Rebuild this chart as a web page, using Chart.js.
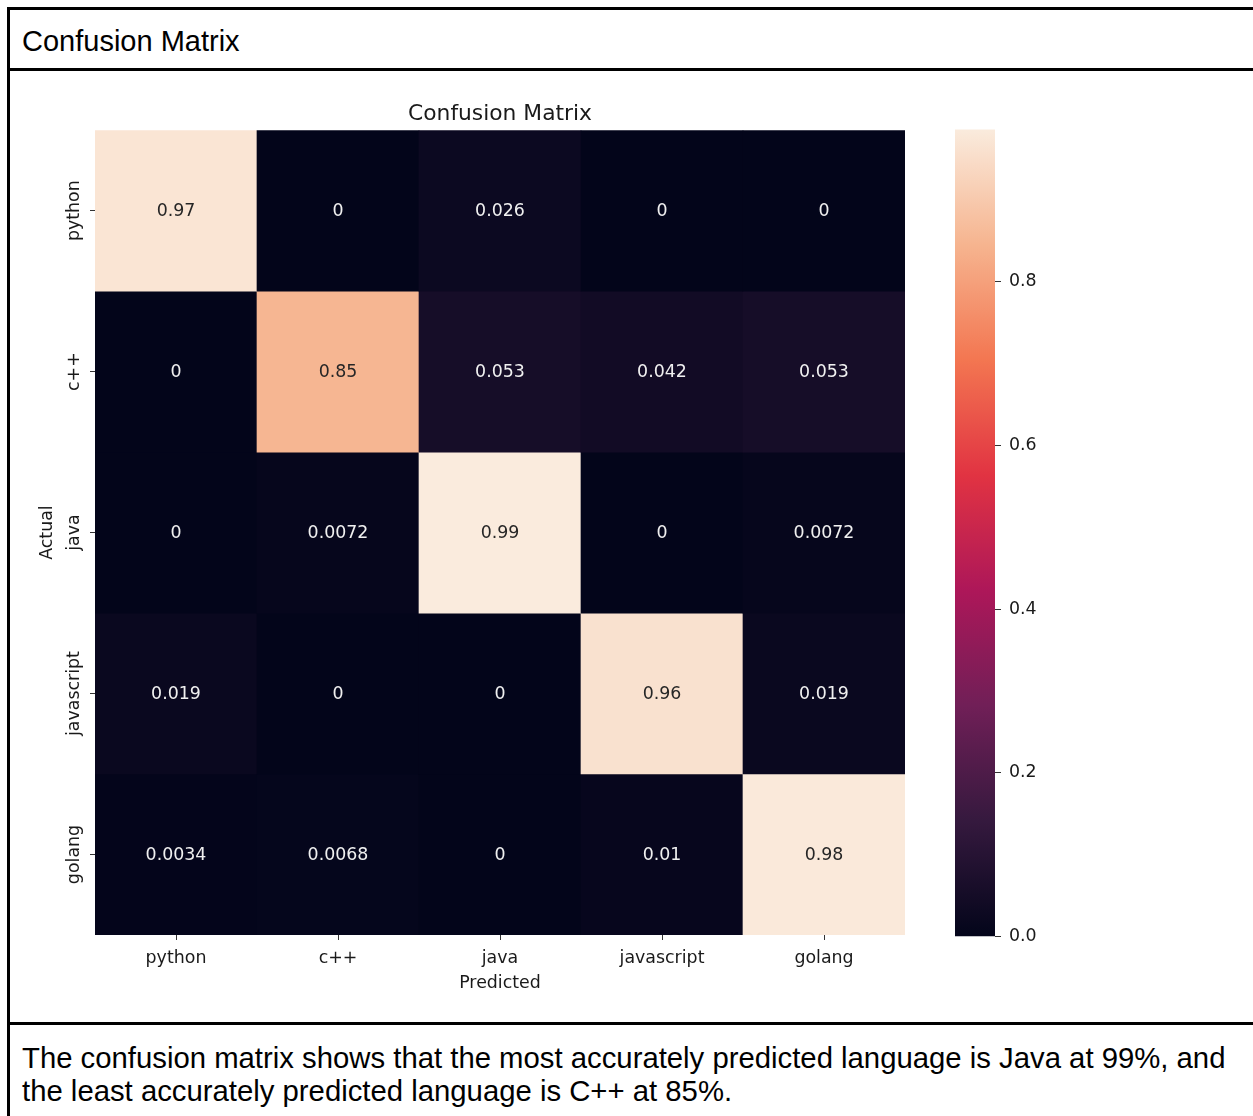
<!DOCTYPE html>
<html lang="en">

<head>
    <meta charset="UTF-8">
    <title>Confusion Matrix</title>
    <script src="https://cdn.jsdelivr.net/npm/chart.js"></script>
    <style>
        body { margin: 0; width: 1253px; height: 1116px; overflow: hidden; background: #fff; position: relative; }
        .line { position: absolute; background: #000; }
        .txt { position: absolute; font-family: "Liberation Sans", Arial, sans-serif; color: #000; white-space: nowrap; }
        canvas { position: absolute; }
    </style>
</head>

<body>
    <div class="line" style="left:7px;top:7px;width:1260px;height:3px"></div>
    <div class="line" style="left:7px;top:7px;width:3px;height:1120px"></div>
    <div class="line" style="left:7px;top:68px;width:1260px;height:3px"></div>
    <div class="line" style="left:7px;top:1022px;width:1260px;height:3px"></div>
    <div class="txt" style="left:22px;top:24px;font-size:29px;line-height:34px">Confusion Matrix</div>
    <div class="txt" style="left:22px;top:1041px;font-size:29.3px;line-height:33px">The confusion matrix shows that the most accurately predicted language is Java at 99%, and<br>the least accurately predicted language is C++ at 85%.</div>

    <canvas id="matrixChart" width="930" height="945" style="left:10px;top:72px"></canvas>
    <canvas id="barChart" width="110" height="844" style="left:955px;top:111px"></canvas>

    <script>
        // rows = actual, columns = predicted
        const actualLabels = ['python', 'c++', 'java', 'javascript', 'golang'];
        const predictedLabels = ['python', 'c++', 'java', 'javascript', 'golang'];
        const pythonRow = [0.97, 0, 0.026, 0, 0];
        const cppRow = [0, 0.85, 0.053, 0.042, 0.053];
        const javaRow = [0, 0.0072, 0.986, 0, 0.0072];
        const javascriptRow = [0.019, 0, 0, 0.96, 0.019];
        const golangRow = [0.0034, 0.0068, 0, 0.01, 0.98];
        const colorbarTicks = [0, 0.2, 0.4, 0.6, 0.8];

        const matrix = [pythonRow, cppRow, javaRow, javascriptRow, golangRow];
        const vmax = Math.max(...matrix.flat());

        // seaborn "rocket" colormap, sampled
        const rocket = [
            [0, [3, 5, 26]],
            [1 / 7, [53, 25, 62]],
            [2 / 7, [112, 31, 87]],
            [3 / 7, [173, 23, 89]],
            [4 / 7, [225, 51, 66]],
            [5 / 7, [243, 118, 81]],
            [6 / 7, [246, 180, 143]],
            [1, [250, 235, 221]]
        ];

        function rocketRgb(t) {
            t = Math.min(1, Math.max(0, t));
            for (let i = 1; i < rocket.length; i++) {
                if (t <= rocket[i][0]) {
                    const [t0, c0] = rocket[i - 1];
                    const [t1, c1] = rocket[i];
                    const f = (t - t0) / (t1 - t0);
                    return c0.map((v, k) => Math.round(v + (c1[k] - v) * f));
                }
            }
            return rocket[rocket.length - 1][1];
        }
        const cellColor = v => 'rgb(' + rocketRgb(v / vmax).join(',') + ')';
        const fmt = v => String(parseFloat(v.toPrecision(2)));

        const mplFont = { family: 'DejaVu Sans', size: 17.4 };
        const textColor = '#1a1a1a';

        // numbers inside the cells
        const cellText = {
            id: 'cellText',
            afterDatasetsDraw(chart) {
                const ctx = chart.ctx;
                ctx.save();
                ctx.font = '17.4px "DejaVu Sans"';
                ctx.textAlign = 'center';
                ctx.textBaseline = 'middle';
                matrix.forEach((row, r) => {
                    const meta = chart.getDatasetMeta(r);
                    row.forEach((v, c) => {
                        const el = meta.data[c];
                        const [R, G, B] = rocketRgb(v / vmax);
                        const lum = (0.2126 * R + 0.7152 * G + 0.0722 * B) / 255;
                        ctx.fillStyle = lum > 0.408 ? '#262626' : '#f0f0f0';
                        ctx.fillText(fmt(v), el.x, (el.y + el.base) / 2 + 1);
                    });
                });
                ctx.restore();
            }
        };

        // rotated y tick labels
        const rowLabels = {
            id: 'rowLabels',
            afterDraw(chart) {
                const ctx = chart.ctx;
                const y = chart.scales.y;
                ctx.save();
                ctx.font = '17.4px "DejaVu Sans"';
                ctx.fillStyle = textColor;
                ctx.textAlign = 'center';
                ctx.textBaseline = 'middle';
                actualLabels.forEach((name, i) => {
                    ctx.save();
                    ctx.translate(chart.chartArea.left - 21, y.getPixelForValue(i + 0.5));
                    ctx.rotate(-Math.PI / 2);
                    ctx.fillText(name, 0, 0);
                    ctx.restore();
                });
                ctx.restore();
            }
        };

        new Chart(document.getElementById('matrixChart'), {
            type: 'bar',
            data: {
                labels: predictedLabels,
                datasets: matrix.map((row, r) => ({
                    label: actualLabels[r],
                    data: row.map(() => [r, r + 1]),
                    backgroundColor: row.map(cellColor),
                    borderWidth: 0,
                    grouped: false,
                    barPercentage: 1,
                    categoryPercentage: 1
                }))
            },
            options: {
                responsive: false,
                animation: false,
                layout: { padding: { left: 0, right: 35, top: 0, bottom: 0 } },
                plugins: {
                    legend: { display: false },
                    tooltip: { enabled: false },
                    title: {
                        display: true,
                        fullSize: false,
                        text: 'Confusion Matrix',
                        color: textColor,
                        font: { family: 'DejaVu Sans', size: 21.8, weight: 'normal' },
                        padding: { top: 29, bottom: 3 }
                    }
                },
                scales: {
                    x: {
                        offset: true,
                        border: { display: false },
                        grid: { offset: false, drawOnChartArea: false, drawTicks: true, tickLength: 5, color: '#333' },
                        ticks: { font: mplFont, color: textColor, padding: 8, maxRotation: 0 },
                        title: { display: true, text: 'Predicted', font: mplFont, color: textColor, padding: { top: 0, bottom: 23 } },
                        afterFit: s => { s.height = 82; }
                    },
                    y: {
                        min: 0,
                        max: 5,
                        reverse: true,
                        border: { display: false },
                        grid: { drawOnChartArea: false, drawTicks: true, tickLength: 5, color: '#333' },
                        ticks: { display: false },
                        afterBuildTicks: s => { s.ticks = actualLabels.map((_, i) => ({ value: i + 0.5 })); },
                        title: { display: true, text: 'Actual', font: mplFont, color: textColor, padding: { top: 27, bottom: 0 } },
                        afterFit: s => { s.width = 85; }
                    }
                }
            },
            plugins: [cellText, rowLabels]
        });

        // colour bar
        new Chart(document.getElementById('barChart'), {
            type: 'bar',
            data: {
                labels: [''],
                datasets: [{
                    data: [[0, vmax]],
                    backgroundColor: (c) => {
                        const chart = c.chart;
                        if (!chart.chartArea) return '#000';
                        const ys = chart.scales.y;
                        const g = chart.ctx.createLinearGradient(0, ys.getPixelForValue(0), 0, ys.getPixelForValue(vmax));
                        rocket.forEach(([t, col]) => g.addColorStop(t, 'rgb(' + col.join(',') + ')'));
                        return g;
                    },
                    borderWidth: 0,
                    barPercentage: 1,
                    categoryPercentage: 1
                }]
            },
            options: {
                responsive: false,
                animation: false,
                layout: { padding: { left: 0, right: 0, top: 10, bottom: 15 } },
                plugins: { legend: { display: false }, tooltip: { enabled: false } },
                scales: {
                    x: { display: false },
                    y: {
                        position: 'right',
                        min: 0,
                        max: vmax,
                        border: { display: false },
                        grid: { drawOnChartArea: false, drawTicks: true, tickLength: 6, color: '#333' },
                        afterBuildTicks: s => { s.ticks = colorbarTicks.map(v => ({ value: v })); },
                        ticks: { font: mplFont, color: textColor, padding: 8, callback: v => v.toFixed(1) },
                        afterFit: s => { s.width = 70; }
                    }
                }
            }
        });
    </script>
</body>

</html>
